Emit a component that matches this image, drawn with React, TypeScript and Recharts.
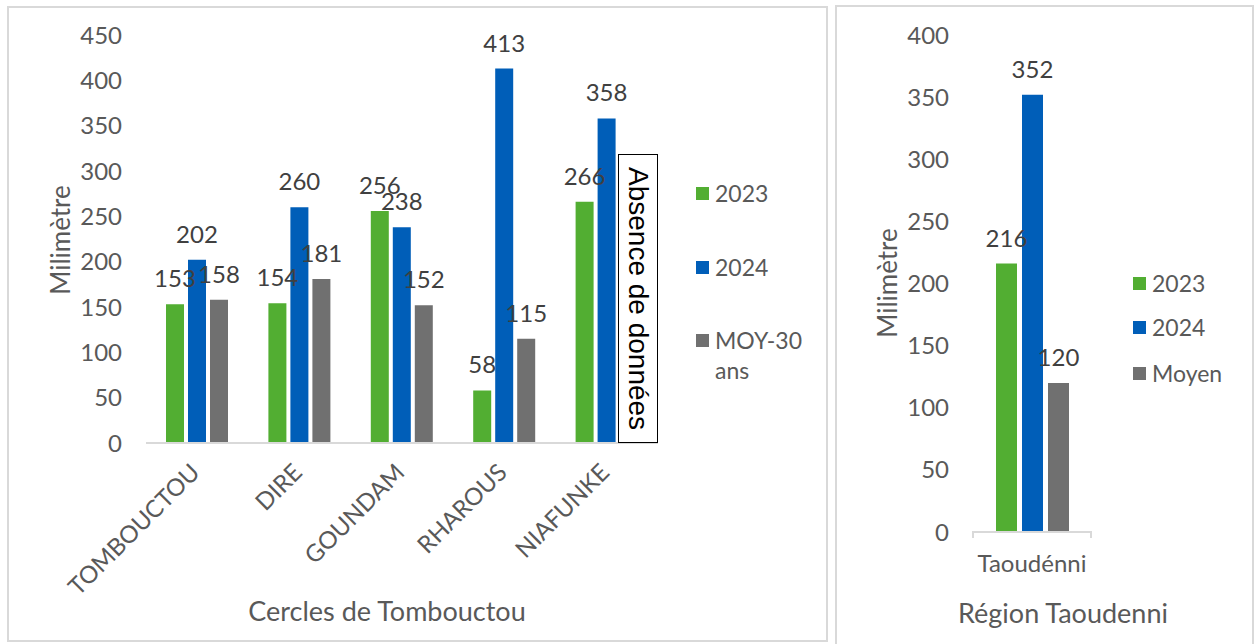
import React from 'react';
import { BarChart, Bar, XAxis, YAxis, LabelList } from 'recharts';

const categories = ['TOMBOUCTOU', 'DIRE', 'GOUNDAM', 'RHAROUS', 'NIAFUNKE'];
const values2023 = [153, 154, 256, 58, 266];
const values2024 = [202, 260, 238, 413, 358];
const valuesMoy30 = [158, 181, 152, 115, null];
const leftTicks = [0, 50, 100, 150, 200, 250, 300, 350, 400, 450];
const leftSeriesNames = ['2023', '2024', 'MOY-30 ans'];

const regionCategories = ['Taoudénni'];
const region2023 = [216];
const region2024 = [352];
const regionMoyen = [120];
const rightTicks = [0, 50, 100, 150, 200, 250, 300, 350, 400];
const rightSeriesNames = ['2023', '2024', 'Moyen'];

const GREEN = '#52AE32';
const BLUE = '#005EB8';
const GRAY = '#707070';
const TEXT = '#595959';
const LABEL = '#404040';
const FONT = 'Lato';
const COLORS = [GREEN, BLUE, GRAY];

const leftData = categories.map((c, i) => ({
  name: c,
  y2023: values2023[i],
  y2024: values2024[i],
  moy: valuesMoy30[i],
}));

const rightData = regionCategories.map((c, i) => ({
  name: c,
  y2023: region2023[i],
  y2024: region2024[i],
  moy: regionMoyen[i],
}));

const CatTick = (props: any) => {
  const { x, y, payload } = props;
  return (
    <text
      transform={`translate(${x + 4},${y + 31}) rotate(-45)`}
      textAnchor="end"
      fill={TEXT}
      fontSize={24}
      fontFamily={FONT}
    >
      {payload.value}
    </text>
  );
};

const abs = (l: number, t: number, extra: React.CSSProperties = {}): React.CSSProperties => ({
  position: 'absolute',
  left: l,
  top: t,
  ...extra,
});

const LegendBlock = ({ left, tops, names, wrapWidth }: { left: number; tops: number[]; names: string[]; wrapWidth: number }) => (
  <>
    {names.map((n, i) => (
      <div key={n} style={abs(left, tops[i], { display: 'flex', alignItems: 'flex-start', fontFamily: FONT, fontSize: 23, color: TEXT })}>
        <div style={{ width: 13, height: 13, background: COLORS[i], marginTop: 9, marginRight: 6, flex: 'none' }} />
        <div style={{ lineHeight: '30px', width: wrapWidth }}>{n}</div>
      </div>
    ))}
  </>
);

const labelProps = { position: 'top' as const, offset: 17, fill: LABEL, fontSize: 24, fontFamily: FONT };

export default function App() {
  return (
    <div style={{ position: 'absolute', left: 0, top: 0, width: 1256, height: 644, background: '#fff', overflow: 'hidden' }}>
      <div style={abs(7, 6, { width: 821, height: 636, border: '2px solid #d9d9d9', boxSizing: 'border-box' })} />
      <div style={abs(835, 5, { width: 419, height: 641, border: '2px solid #d9d9d9', boxSizing: 'border-box' })} />

      <div style={abs(0, 0)}>
        <BarChart
          width={1256}
          height={644}
          data={leftData}
          margin={{ top: 35, right: 598, bottom: 51, left: 0 }}
          barSize={18}
          barGap={4}
        >
          <XAxis
            dataKey="name"
            height={150}
            interval={0}
            tickLine={false}
            tickSize={0}
            tickMargin={0}
            axisLine={{ stroke: '#d9d9d9', strokeWidth: 2 }}
            tick={<CatTick />}
          />
          <YAxis
            width={146}
            domain={[0, 450]}
            ticks={leftTicks}
            interval={0}
            axisLine={false}
            tickLine={false}
            tickSize={0}
            tickMargin={24}
            tick={{ fill: TEXT, fontSize: 24, fontFamily: FONT }}
          />
          <Bar dataKey="y2023" name={leftSeriesNames[0]} fill={GREEN} isAnimationActive={false}>
            <LabelList dataKey="y2023" {...labelProps} />
          </Bar>
          <Bar dataKey="y2024" name={leftSeriesNames[1]} fill={BLUE} isAnimationActive={false}>
            <LabelList dataKey="y2024" {...labelProps} />
          </Bar>
          <Bar dataKey="moy" name={leftSeriesNames[2]} fill={GRAY} isAnimationActive={false}>
            <LabelList dataKey="moy" {...labelProps} />
          </Bar>
        </BarChart>
      </div>

      <div style={abs(0, 0)}>
        <BarChart
          width={1256}
          height={644}
          data={rightData}
          margin={{ top: 35, right: 165, bottom: 32, left: 0 }}
          barSize={21}
          barGap={5}
        >
          <XAxis
            dataKey="name"
            height={80}
            tickLine={false}
            tickSize={0}
            tickMargin={23}
            axisLine={{ stroke: '#d9d9d9', strokeWidth: 2 }}
            tick={{ fill: TEXT, fontSize: 24, fontFamily: FONT }}
          />
          <YAxis
            width={973}
            domain={[0, 400]}
            ticks={rightTicks}
            interval={0}
            axisLine={false}
            tickLine={false}
            tickSize={0}
            tickMargin={24}
            tick={{ fill: TEXT, fontSize: 24, fontFamily: FONT }}
          />
          <Bar dataKey="y2023" name={rightSeriesNames[0]} fill={GREEN} isAnimationActive={false}>
            <LabelList dataKey="y2023" {...labelProps} />
          </Bar>
          <Bar dataKey="y2024" name={rightSeriesNames[1]} fill={BLUE} isAnimationActive={false}>
            <LabelList dataKey="y2024" {...labelProps} />
          </Bar>
          <Bar dataKey="moy" name={rightSeriesNames[2]} fill={GRAY} isAnimationActive={false}>
            <LabelList dataKey="moy" {...labelProps} />
          </Bar>
        </BarChart>
      </div>

      {/* boundary tick marks on the Taoudenni category axis */}
      <div style={abs(972, 531, { width: 2, height: 7, background: '#d9d9d9' })} />
      <div style={abs(1090, 531, { width: 2, height: 7, background: '#d9d9d9' })} />

      <LegendBlock left={696} tops={[178, 252, 325]} names={leftSeriesNames} wrapWidth={100} />
      <LegendBlock left={1133} tops={[268, 312, 358]} names={rightSeriesNames} wrapWidth={100} />

      <div
        style={abs(618, 154, {
          width: 40,
          height: 289,
          border: '1.5px solid #000',
          boxSizing: 'border-box',
          background: '#fff',
          display: 'flex',
          alignItems: 'center',
          justifyContent: 'center',
        })}
      >
        <span style={{ writingMode: 'vertical-rl', fontFamily: 'Liberation Sans', fontSize: 28, color: '#000', whiteSpace: 'nowrap' }}>
          Absence de données
        </span>
      </div>

      <div style={abs(60, 240, { transform: 'translate(-50%, -50%) rotate(-90deg)', fontFamily: FONT, fontSize: 26, color: TEXT, whiteSpace: 'nowrap' })}>
        Milimètre
      </div>
      <div style={abs(387, 610, { transform: 'translate(-50%, -50%)', fontFamily: FONT, fontSize: 27, color: TEXT, whiteSpace: 'nowrap' })}>
        Cercles de Tombouctou
      </div>
      <div style={abs(887, 283, { transform: 'translate(-50%, -50%) rotate(-90deg)', fontFamily: FONT, fontSize: 26, color: TEXT, whiteSpace: 'nowrap' })}>
        Milimètre
      </div>
      <div style={abs(1063, 612, { transform: 'translate(-50%, -50%)', fontFamily: FONT, fontSize: 27, color: TEXT, whiteSpace: 'nowrap' })}>
        Région Taoudenni
      </div>
    </div>
  );
}
